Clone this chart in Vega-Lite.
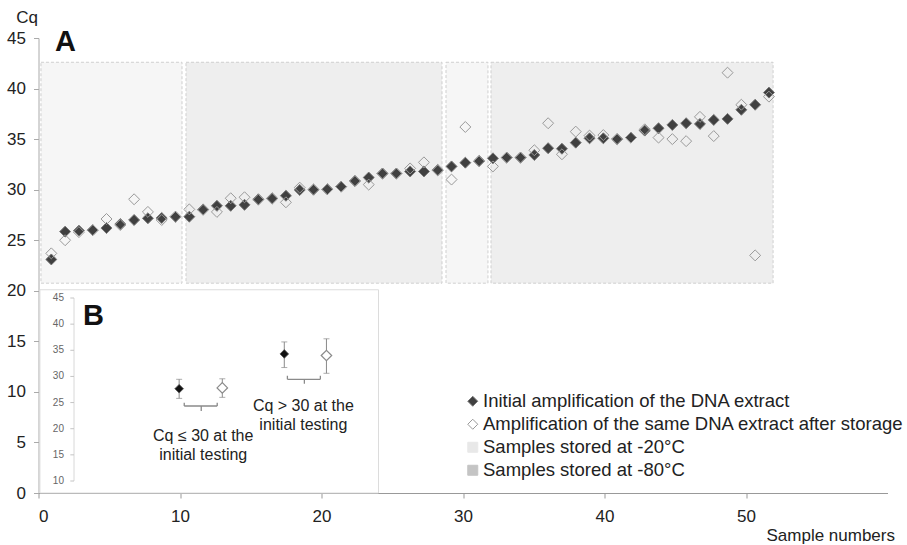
{
  "$schema": "https://vega.github.io/schema/vega-lite/v6.json",
  "width": 849,
  "height": 455,
  "autosize": {"type": "none"},
  "padding": {"left": 38.5, "top": 38, "right": 19.5, "bottom": 52},
  "background": "white",
  "config": {
    "view": {"stroke": null},
    "font": "Liberation Sans",
    "text": {"font": "Liberation Sans"}
  },
  "resolve": {"scale": {"x": "independent", "y": "independent", "fill": "independent", "stroke": "independent", "shape": "independent"}},
  "layer": [
    {
      "layer": [
        {
          "data": {"values": [{"x": 0.1, "x2": 24.03, "y": 0, "y2": 20.1}]},
          "mark": {"type": "rect", "fill": "white", "stroke": "#dcdcdc", "strokeWidth": 1},
          "encoding": {
            "x": {
              "field": "x", "type": "quantitative",
              "scale": {"domain": [0, 60], "nice": false, "zero": false},
              "axis": {
                "values": [0, 10, 20, 30, 40, 50],
                "grid": false,
                "domainColor": "#999", "tickColor": "#999", "tickSize": 5,
                "labelFontSize": 17, "labelColor": "#222", "labelPadding": 10,
                "title": "Sample numbers", "titleFontSize": 17, "titleFontWeight": "normal",
                "titleColor": "#222", "titleAnchor": "end", "titleAlign": "right",
                "titleX": 856, "titleY": 47, "titleBaseline": "alphabetic"
              }
            },
            "x2": {"field": "x2"},
            "y": {
              "field": "y", "type": "quantitative",
              "scale": {"domain": [0, 45], "nice": false, "zero": false},
              "axis": {
                "values": [0, 5, 10, 15, 20, 25, 30, 35, 40, 45],
                "grid": false,
                "domainColor": "#aaa", "tickColor": "#aaa", "tickSize": 5,
                "labelFontSize": 17, "labelColor": "#222", "labelPadding": 8,
                "title": "Cq", "titleFontSize": 17, "titleFontWeight": "normal",
                "titleColor": "#222", "titleAngle": 0, "titleAlign": "center",
                "titleBaseline": "alphabetic", "titleX": -12, "titleY": -16
              }
            },
            "y2": {"field": "y2"}
          }
        },
        {
          "data": {"values": [
            {"label": "A", "x": 1.17, "y": 43.7},
            {"label": "B", "x": 3.15, "y": 16.6}
          ]},
          "mark": {"type": "text", "fontSize": 29, "fontWeight": "bold", "align": "left", "baseline": "alphabetic", "color": "#111"},
          "encoding": {
            "x": {"field": "x", "type": "quantitative"},
            "y": {"field": "y", "type": "quantitative"},
            "text": {"field": "label"}
          }
        },
        {
          "data": {"values": [
            {"label": "Cq ≤ 30 at the", "x": 11.64, "y": 5.64},
            {"label": "initial testing", "x": 11.64, "y": 3.76},
            {"label": "Cq > 30 at the", "x": 18.72, "y": 8.6},
            {"label": "initial testing", "x": 18.72, "y": 6.73}
          ]},
          "mark": {"type": "text", "fontSize": 16, "align": "center", "baseline": "middle", "color": "#222"},
          "encoding": {
            "x": {"field": "x", "type": "quantitative"},
            "y": {"field": "y", "type": "quantitative"},
            "text": {"field": "label"}
          }
        }
      ]
    },
    {
      "data": {"values": [
        {"key": "Samples stored at -20°C", "x": 0.25, "x2": 10.47, "y": 20.75, "y2": 42.6},
        {"key": "Samples stored at -80°C", "x": 10.76, "x2": 29.31, "y": 20.75, "y2": 42.6},
        {"key": "Samples stored at -20°C", "x": 29.6, "x2": 32.64, "y": 20.75, "y2": 42.6},
        {"key": "Samples stored at -80°C", "x": 32.86, "x2": 53.3, "y": 20.75, "y2": 42.6}
      ]},
      "mark": {"type": "rect", "stroke": "#cfcfcf", "strokeWidth": 1, "strokeDash": [3, 2]},
      "encoding": {
        "x": {"field": "x", "type": "quantitative", "scale": {"domain": [0.072, 61.59], "nice": false, "zero": false}, "axis": null},
        "x2": {"field": "x2"},
        "y": {"field": "y", "type": "quantitative", "scale": {"domain": [0, 45], "nice": false, "zero": false}, "axis": null},
        "y2": {"field": "y2"},
        "fill": {
          "field": "key", "type": "nominal",
          "scale": {"domain": ["Samples stored at -20°C", "Samples stored at -80°C"], "range": ["#f6f6f6", "#eeeeee"]},
          "legend": null
        }
      }
    },
    {
      "data": {"values": [
        {"x": 1, "Initial amplification of the DNA extract": 23.1, "Amplification of the same DNA extract after storage": 23.7},
        {"x": 2, "Initial amplification of the DNA extract": 25.85, "Amplification of the same DNA extract after storage": 25.0},
        {"x": 3, "Initial amplification of the DNA extract": 25.95, "Amplification of the same DNA extract after storage": 25.8},
        {"x": 4, "Initial amplification of the DNA extract": 26.0, "Amplification of the same DNA extract after storage": 26.0},
        {"x": 5, "Initial amplification of the DNA extract": 26.2, "Amplification of the same DNA extract after storage": 27.1},
        {"x": 6, "Initial amplification of the DNA extract": 26.6, "Amplification of the same DNA extract after storage": 26.5},
        {"x": 7, "Initial amplification of the DNA extract": 27.0, "Amplification of the same DNA extract after storage": 29.05},
        {"x": 8, "Initial amplification of the DNA extract": 27.17, "Amplification of the same DNA extract after storage": 27.8},
        {"x": 9, "Initial amplification of the DNA extract": 27.2, "Amplification of the same DNA extract after storage": 27.0},
        {"x": 10, "Initial amplification of the DNA extract": 27.33, "Amplification of the same DNA extract after storage": 27.3},
        {"x": 11, "Initial amplification of the DNA extract": 27.33, "Amplification of the same DNA extract after storage": 28.05},
        {"x": 12, "Initial amplification of the DNA extract": 28.05, "Amplification of the same DNA extract after storage": 28.0},
        {"x": 13, "Initial amplification of the DNA extract": 28.4, "Amplification of the same DNA extract after storage": 27.8},
        {"x": 14, "Initial amplification of the DNA extract": 28.4, "Amplification of the same DNA extract after storage": 29.15},
        {"x": 15, "Initial amplification of the DNA extract": 28.5, "Amplification of the same DNA extract after storage": 29.25},
        {"x": 16, "Initial amplification of the DNA extract": 29.05, "Amplification of the same DNA extract after storage": 29.0},
        {"x": 17, "Initial amplification of the DNA extract": 29.15, "Amplification of the same DNA extract after storage": 29.1},
        {"x": 18, "Initial amplification of the DNA extract": 29.4, "Amplification of the same DNA extract after storage": 28.75},
        {"x": 19, "Initial amplification of the DNA extract": 29.97, "Amplification of the same DNA extract after storage": 30.2},
        {"x": 20, "Initial amplification of the DNA extract": 30.0, "Amplification of the same DNA extract after storage": 30.0},
        {"x": 21, "Initial amplification of the DNA extract": 30.04, "Amplification of the same DNA extract after storage": 30.04},
        {"x": 22, "Initial amplification of the DNA extract": 30.3, "Amplification of the same DNA extract after storage": 30.3},
        {"x": 23, "Initial amplification of the DNA extract": 30.86, "Amplification of the same DNA extract after storage": 30.86},
        {"x": 24, "Initial amplification of the DNA extract": 31.2, "Amplification of the same DNA extract after storage": 30.5},
        {"x": 25, "Initial amplification of the DNA extract": 31.6, "Amplification of the same DNA extract after storage": 31.6},
        {"x": 26, "Initial amplification of the DNA extract": 31.6, "Amplification of the same DNA extract after storage": 31.6},
        {"x": 27, "Initial amplification of the DNA extract": 31.8, "Amplification of the same DNA extract after storage": 32.1},
        {"x": 28, "Initial amplification of the DNA extract": 31.8, "Amplification of the same DNA extract after storage": 32.7},
        {"x": 29, "Initial amplification of the DNA extract": 31.95, "Amplification of the same DNA extract after storage": 31.9},
        {"x": 30, "Initial amplification of the DNA extract": 32.3, "Amplification of the same DNA extract after storage": 31.0},
        {"x": 31, "Initial amplification of the DNA extract": 32.67, "Amplification of the same DNA extract after storage": 36.2},
        {"x": 32, "Initial amplification of the DNA extract": 32.84, "Amplification of the same DNA extract after storage": 32.8},
        {"x": 33, "Initial amplification of the DNA extract": 33.1, "Amplification of the same DNA extract after storage": 32.3},
        {"x": 34, "Initial amplification of the DNA extract": 33.17, "Amplification of the same DNA extract after storage": 33.17},
        {"x": 35, "Initial amplification of the DNA extract": 33.17, "Amplification of the same DNA extract after storage": 33.17},
        {"x": 36, "Initial amplification of the DNA extract": 33.43, "Amplification of the same DNA extract after storage": 33.9},
        {"x": 37, "Initial amplification of the DNA extract": 34.1, "Amplification of the same DNA extract after storage": 36.57},
        {"x": 38, "Initial amplification of the DNA extract": 34.05, "Amplification of the same DNA extract after storage": 33.5},
        {"x": 39, "Initial amplification of the DNA extract": 34.65, "Amplification of the same DNA extract after storage": 35.74},
        {"x": 40, "Initial amplification of the DNA extract": 35.08, "Amplification of the same DNA extract after storage": 35.35},
        {"x": 41, "Initial amplification of the DNA extract": 35.08, "Amplification of the same DNA extract after storage": 35.4},
        {"x": 42, "Initial amplification of the DNA extract": 35.0, "Amplification of the same DNA extract after storage": 35.0},
        {"x": 43, "Initial amplification of the DNA extract": 35.15, "Amplification of the same DNA extract after storage": 35.15},
        {"x": 44, "Initial amplification of the DNA extract": 35.84, "Amplification of the same DNA extract after storage": 35.97},
        {"x": 45, "Initial amplification of the DNA extract": 36.07, "Amplification of the same DNA extract after storage": 35.15},
        {"x": 46, "Initial amplification of the DNA extract": 36.4, "Amplification of the same DNA extract after storage": 35.0},
        {"x": 47, "Initial amplification of the DNA extract": 36.57, "Amplification of the same DNA extract after storage": 34.8},
        {"x": 48, "Initial amplification of the DNA extract": 36.5, "Amplification of the same DNA extract after storage": 37.2},
        {"x": 49, "Initial amplification of the DNA extract": 36.9, "Amplification of the same DNA extract after storage": 35.3},
        {"x": 50, "Initial amplification of the DNA extract": 37.0, "Amplification of the same DNA extract after storage": 41.57},
        {"x": 51, "Initial amplification of the DNA extract": 37.9, "Amplification of the same DNA extract after storage": 38.4},
        {"x": 52, "Initial amplification of the DNA extract": 38.4, "Amplification of the same DNA extract after storage": 23.5},
        {"x": 53, "Initial amplification of the DNA extract": 39.6, "Amplification of the same DNA extract after storage": 39.2}
      ]},
      "transform": [
        {"fold": ["Initial amplification of the DNA extract", "Amplification of the same DNA extract after storage"], "as": ["key", "y"]}
      ],
      "mark": {"type": "point", "filled": true, "size": 120, "strokeWidth": 1, "opacity": 1},
      "encoding": {
        "x": {"field": "x", "type": "quantitative", "scale": {"domain": [0.072, 61.59], "nice": false, "zero": false}, "axis": null},
        "y": {"field": "y", "type": "quantitative", "scale": {"domain": [0, 45], "nice": false, "zero": false}, "axis": null},
        "fill": {
          "field": "key", "type": "nominal",
          "scale": {
            "domain": ["Initial amplification of the DNA extract", "Amplification of the same DNA extract after storage", "Samples stored at -20°C", "Samples stored at -80°C"],
            "range": ["#404040", "transparent", "#e8e8e8", "#c4c4c4"]
          },
          "legend": {
            "title": null, "orient": "none", "legendX": 425, "legendY": 354,
            "labelFontSize": 18.5, "labelColor": "#222", "symbolSize": 100,
            "rowPadding": 4, "labelOffset": 1, "symbolStrokeWidth": 1,
            "padding": 0, "labelLimit": 600
          }
        },
        "stroke": {
          "field": "key", "type": "nominal",
          "scale": {
            "domain": ["Initial amplification of the DNA extract", "Amplification of the same DNA extract after storage", "Samples stored at -20°C", "Samples stored at -80°C"],
            "range": ["#777777", "#999999", "#e8e8e8", "#c4c4c4"]
          },
          "legend": {
            "title": null, "orient": "none", "legendX": 425, "legendY": 354,
            "labelFontSize": 18.5, "labelColor": "#222", "symbolSize": 100,
            "rowPadding": 4, "labelOffset": 1, "symbolStrokeWidth": 1,
            "padding": 0, "labelLimit": 600
          }
        },
        "shape": {
          "field": "key", "type": "nominal",
          "scale": {
            "domain": ["Initial amplification of the DNA extract", "Amplification of the same DNA extract after storage", "Samples stored at -20°C", "Samples stored at -80°C"],
            "range": ["diamond", "diamond", "square", "square"]
          },
          "legend": {
            "title": null, "orient": "none", "legendX": 425, "legendY": 354,
            "labelFontSize": 18.5, "labelColor": "#222", "symbolSize": 100,
            "rowPadding": 4, "labelOffset": 1, "symbolStrokeWidth": 1,
            "padding": 0, "labelLimit": 600
          }
        }
      }
    },
    {
      "data": {"values": [
        {"group": "Cq ≤ 30", "kind": "initial", "x": 9.94, "mid": 27.65, "lo": 25.8, "hi": 29.45},
        {"group": "Cq ≤ 30", "kind": "storage", "x": 12.99, "mid": 27.8, "lo": 26.0, "hi": 29.55},
        {"group": "Cq > 30", "kind": "initial", "x": 17.37, "mid": 34.3, "lo": 31.7, "hi": 36.6},
        {"group": "Cq > 30", "kind": "storage", "x": 20.35, "mid": 34.0, "lo": 30.6, "hi": 37.2}
      ]},
      "layer": [
        {
          "data": {"values": [{"x": 2.51, "lo": 10, "hi": 45}]},
          "mark": {"type": "rule", "color": "#d8d8d8", "strokeWidth": 1},
          "encoding": {
            "x": {"field": "x", "type": "quantitative", "scale": {"domain": [0, 60], "nice": false, "zero": false}, "axis": null},
            "y": {"field": "lo", "type": "quantitative", "scale": {"domain": [10, 45], "range": [443, 260], "nice": false, "zero": false}, "axis": null},
            "y2": {"field": "hi"}
          }
        },
        {
          "data": {"values": [
            {"tick": 10}, {"tick": 15}, {"tick": 20}, {"tick": 25},
            {"tick": 30}, {"tick": 35}, {"tick": 40}, {"tick": 45}
          ]},
          "layer": [
            {
              "mark": {"type": "rule", "color": "#c4c4c4", "strokeWidth": 1},
              "encoding": {
                "x": {"datum": 2.25, "type": "quantitative", "axis": null},
                "x2": {"datum": 2.51},
                "y": {"field": "tick", "type": "quantitative", "axis": null}
              }
            },
            {
              "mark": {"type": "text", "align": "right", "baseline": "middle", "fontSize": 10, "color": "#666"},
              "encoding": {
                "x": {"datum": 1.8, "type": "quantitative", "axis": null},
                "y": {"field": "tick", "type": "quantitative", "axis": null},
                "text": {"field": "tick", "type": "quantitative"}
              }
            }
          ]
        },
        {
          "mark": {"type": "rule", "color": "#8a8a8a", "strokeWidth": 1},
          "encoding": {
            "x": {"field": "x", "type": "quantitative", "axis": null},
            "y": {"field": "lo", "type": "quantitative", "axis": null},
            "y2": {"field": "hi"}
          }
        },
        {
          "transform": [{"fold": ["lo", "hi"], "as": ["end", "v"]}],
          "mark": {"type": "tick", "orient": "horizontal", "color": "#8a8a8a", "size": 6, "thickness": 1},
          "encoding": {
            "x": {"field": "x", "type": "quantitative", "axis": null},
            "y": {"field": "v", "type": "quantitative", "axis": null}
          }
        },
        {
          "transform": [{"filter": "datum.kind === 'initial'"}],
          "mark": {"type": "point", "shape": "diamond", "filled": true, "size": 75, "fill": "#111", "stroke": "#555", "strokeWidth": 0.8, "opacity": 1},
          "encoding": {
            "x": {"field": "x", "type": "quantitative", "axis": null},
            "y": {"field": "mid", "type": "quantitative", "axis": null}
          }
        },
        {
          "transform": [{"filter": "datum.kind === 'storage'"}],
          "mark": {"type": "point", "shape": "diamond", "filled": false, "size": 110, "fill": "white", "fillOpacity": 1, "stroke": "#8a8a8a", "strokeWidth": 1.2, "opacity": 1},
          "encoding": {
            "x": {"field": "x", "type": "quantitative", "axis": null},
            "y": {"field": "mid", "type": "quantitative", "axis": null}
          }
        },
        {
          "data": {"values": [
            {"x": 10.3, "x2": 12.63, "y": 24.34, "y2": 24.34},
            {"x": 10.3, "x2": 10.3, "y": 24.34, "y2": 24.97},
            {"x": 12.63, "x2": 12.63, "y": 24.34, "y2": 24.97},
            {"x": 11.5, "x2": 11.5, "y": 24.34, "y2": 23.4},
            {"x": 17.59, "x2": 19.92, "y": 29.45, "y2": 29.45},
            {"x": 17.59, "x2": 17.59, "y": 29.45, "y2": 30.13},
            {"x": 19.92, "x2": 19.92, "y": 29.45, "y2": 30.13},
            {"x": 18.79, "x2": 18.79, "y": 29.45, "y2": 28.6}
          ]},
          "mark": {"type": "rule", "color": "#8a8a8a", "strokeWidth": 1.3},
          "encoding": {
            "x": {"field": "x", "type": "quantitative", "axis": null},
            "x2": {"field": "x2"},
            "y": {"field": "y", "type": "quantitative", "axis": null},
            "y2": {"field": "y2"}
          }
        }
      ]
    }
  ]
}
